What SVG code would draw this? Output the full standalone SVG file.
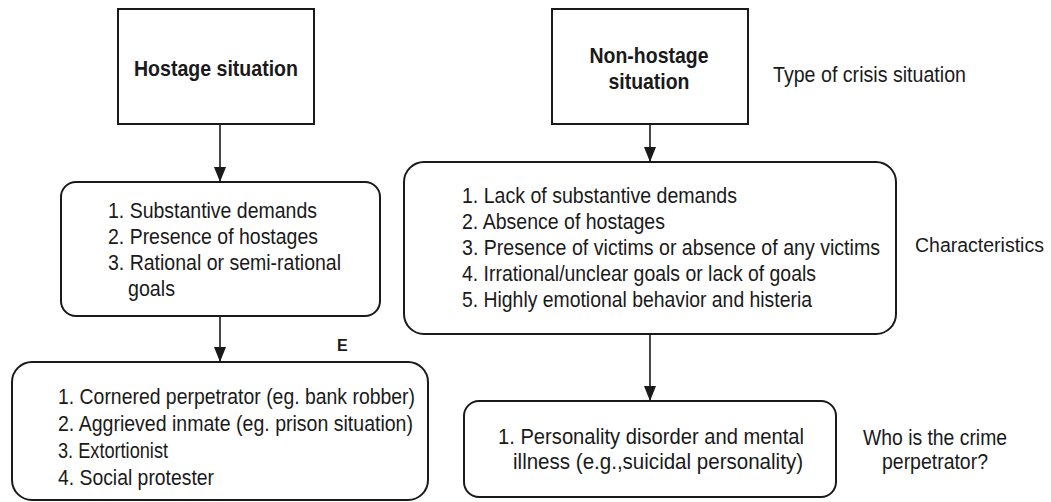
<svg xmlns="http://www.w3.org/2000/svg" width="1051" height="502" viewBox="0 0 1051 502">
<style>
.box{fill:#fff;stroke:#1a1a1a;stroke-width:2}
.t{font-family:"Liberation Sans",Arial,sans-serif;font-size:21.5px;fill:#1a1a1a}
.b{font-weight:bold}
.c{stroke:#1a1a1a;stroke-width:1.6;fill:none}
</style>
<defs>
<marker id="ah" viewBox="0 0 15 12" refX="15" refY="6" markerWidth="15" markerHeight="12" markerUnits="userSpaceOnUse" orient="auto">
<path d="M0,0 L15,6 L0,12 z" fill="#1a1a1a"/>
</marker>
</defs>
<rect width="1051" height="502" fill="#fff"/>
<g id="connectors">
<line class="c" x1="220" y1="124" x2="220" y2="182" marker-end="url(#ah)"/>
<line class="c" x1="220" y1="316" x2="220" y2="362" marker-end="url(#ah)"/>
<line class="c" x1="650" y1="124" x2="650" y2="162" marker-end="url(#ah)"/>
<line class="c" x1="650" y1="334" x2="650" y2="401" marker-end="url(#ah)"/>
</g>
<g id="hostage">
<rect class="box" x="118" y="9" width="196" height="115"/>
<text class="t b" x="216" y="76" text-anchor="middle" textLength="164" lengthAdjust="spacingAndGlyphs">Hostage situation</text>
</g>
<g id="nonhostage">
<rect class="box" x="552" y="9" width="196" height="115"/>
<text class="t b" x="649" y="63" text-anchor="middle" textLength="119" lengthAdjust="spacingAndGlyphs">Non-hostage</text>
<text class="t b" x="649" y="89" text-anchor="middle" textLength="81" lengthAdjust="spacingAndGlyphs">situation</text>
</g>
<g id="label-type">
<text class="t" x="773" y="82" textLength="193" lengthAdjust="spacingAndGlyphs">Type of crisis situation</text>
</g>
<g id="hostage-char">
<rect class="box" x="61" y="182" width="319" height="134" rx="15" ry="15"/>
<text class="t" x="108" y="218" textLength="209" lengthAdjust="spacingAndGlyphs">1. Substantive demands</text>
<text class="t" x="108" y="244" textLength="210" lengthAdjust="spacingAndGlyphs">2. Presence of hostages</text>
<text class="t" x="108" y="270" textLength="233" lengthAdjust="spacingAndGlyphs">3. Rational or semi-rational</text>
<text class="t" x="128" y="296" textLength="47" lengthAdjust="spacingAndGlyphs">goals</text>
</g>
<g id="nonhostage-char">
<rect class="box" x="404" y="162" width="492" height="172" rx="20" ry="20"/>
<text class="t" x="462" y="203" textLength="275" lengthAdjust="spacingAndGlyphs">1. Lack of substantive demands</text>
<text class="t" x="462" y="229" textLength="203" lengthAdjust="spacingAndGlyphs">2. Absence of hostages</text>
<text class="t" x="462" y="255" textLength="418" lengthAdjust="spacingAndGlyphs">3. Presence of victims or absence of any victims</text>
<text class="t" x="462" y="281" textLength="354" lengthAdjust="spacingAndGlyphs">4. Irrational/unclear goals or lack of goals</text>
<text class="t" x="462" y="307" textLength="350" lengthAdjust="spacingAndGlyphs">5. Highly emotional behavior and histeria</text>
</g>
<g id="label-char">
<text class="t" x="915" y="252" style="font-size:19.5px">Characteristics</text>
</g>
<g id="label-e">
<text class="t b" x="337" y="351" style="font-size:16px">E</text>
</g>
<g id="hostage-perp">
<rect class="box" x="12" y="362" width="416" height="138" rx="20" ry="20"/>
<text class="t" x="58" y="404" textLength="357" lengthAdjust="spacingAndGlyphs">1. Cornered perpetrator (eg. bank robber)</text>
<text class="t" x="58" y="431" textLength="355" lengthAdjust="spacingAndGlyphs">2. Aggrieved inmate (eg. prison situation)</text>
<text class="t" x="58" y="458" textLength="110" lengthAdjust="spacingAndGlyphs">3. Extortionist</text>
<text class="t" x="58" y="485" textLength="156" lengthAdjust="spacingAndGlyphs">4. Social protester</text>
</g>
<g id="nonhostage-perp">
<rect class="box" x="464" y="401" width="372" height="96" rx="15" ry="15"/>
<text class="t" x="498" y="444" textLength="306" lengthAdjust="spacingAndGlyphs">1. Personality disorder and mental</text>
<text class="t" x="513" y="469" textLength="290" lengthAdjust="spacingAndGlyphs">illness (e.g.,suicidal personality)</text>
</g>
<g id="label-who">
<text class="t" x="935" y="445" text-anchor="middle" textLength="144" lengthAdjust="spacingAndGlyphs">Who is the crime</text>
<text class="t" x="935" y="469" text-anchor="middle" textLength="106" lengthAdjust="spacingAndGlyphs">perpetrator?</text>
</g>
</svg>
